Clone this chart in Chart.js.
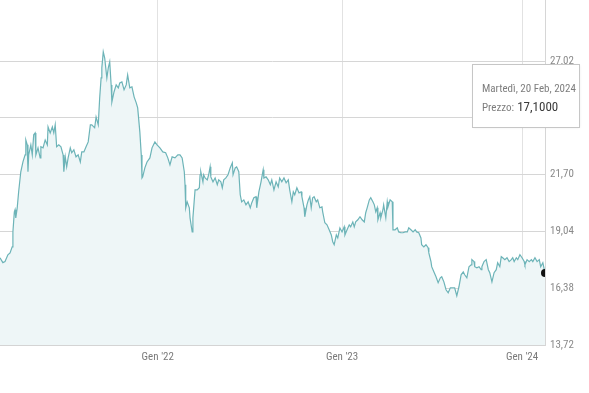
<!DOCTYPE html>
<html>
<head>
<meta charset="utf-8">
<script src="https://cdn.jsdelivr.net/npm/chart.js@4/dist/chart.umd.min.js"></script>
<style>
html,body{margin:0;padding:0;background:#fff;}
#wrap{width:589px;height:393px;}
</style>
</head>
<body>
<div id="wrap"><canvas id="c" width="589" height="393"></canvas></div>
<script>
// Trading-session index (0 = first session shown) and closing price
const sessions = [
0,4,7,11,14,17,18,20,21,22,24,26,29,32,35,36,38,39,40,43,45,47,49,50,53,56,57,60,63,66,67,70,73,75,77,79,82,85,88,89,91,93,95,98,100,103,106,109,112,114,117,120,123,126,
128,132,134,137,139,141,142,144,146,149,151,153,155,156,159,162,165,167,170,173,176,178,181,184,187,190,192,195,197,198,199,202,205,209,212,216,219,223,227,231,234,237,240,244,248,
251,254,257,258,259,261,264,265,268,269,272,275,278,279,280,283,284,286,289,291,293,294,297,300,303,305,308,310,312,315,318,321,324,325,328,330,333,335,337,340,343,346,349,351,354,357,358,361,364,367,368,371,374,
377,379,382,385,388,390,393,396,399,402,404,407,409,411,414,417,420,421,424,425,428,430,432,434,436,438,441,443,446,449,450,453,456,459,462,464,466,469,471,474,477,480,481,484,487,489,492,494,496,499,
502,505,508,510,512,515,517,520,522,524,526,527,530,531,534,535,538,540,541,544,547,548,551,554,556,559,562,565,568,570,573,576,579,581,584,587,588,591,594,597,598,601,602,
605,608,611,614,616,619,622,625,628,632,634,637,640,643,646,648,651,654,657,658,661,662,665,668,671,672,675,678,681,683,686,689,692,694,697,699,701,704,707,710,713,715,717,720,722,725,728,731,732,735,738,741,743,746,749,752,754,757,760
];
const prices = [
17.81,17.58,17.63,17.95,18.04,18.32,19.02,19.96,20.06,19.68,20.15,20.90,21.84,22.30,22.63,23.33,23.10,21.84,22.63,23.10,22.63,23.57,23.66,22.63,22.96,22.49,23.01,22.96,23.33,23.10,23.94,23.66,23.94,23.66,24.04,23.01,23.10,23.01,22.63,21.84,22.54,22.07,22.49,22.96,22.73,22.87,22.54,22.63,22.30,22.77,22.77,23.01,23.24,24.04,
24.04,23.90,24.41,24.04,25.30,26.24,26.71,27.46,27.17,26.24,26.71,26.99,25.91,25.11,25.58,25.91,25.77,26.00,26.05,25.68,25.91,26.38,25.77,25.82,25.35,25.07,24.83,23.71,22.63,21.55,21.60,22.02,22.30,22.49,22.96,23.24,23.10,22.96,22.77,22.73,22.49,22.16,22.54,22.49,22.63,
22.63,22.49,21.84,21.23,20.15,20.43,20.15,19.68,19.02,19.68,20.99,20.99,21.09,21.70,21.84,21.37,21.70,21.55,21.46,21.70,22.07,21.60,21.37,21.55,21.23,21.46,21.37,21.09,21.46,21.55,21.70,22.02,22.26,21.70,22.02,22.07,21.84,20.76,20.43,20.52,20.29,20.43,20.15,20.38,20.62,20.67,20.15,20.90,21.37,21.93,21.55,21.60,21.46,
21.23,21.46,20.99,21.37,21.13,21.55,21.37,21.55,21.32,21.46,20.99,20.43,20.90,20.76,21.09,20.85,20.90,20.67,20.15,19.73,20.29,20.52,20.67,20.15,20.62,20.67,20.43,20.52,20.15,20.19,19.96,19.45,19.35,19.12,18.88,18.56,18.42,18.88,18.74,19.21,19.02,19.26,18.88,19.12,19.35,19.26,19.49,19.26,19.49,19.59,
19.73,19.59,19.49,19.92,20.15,20.52,20.62,20.43,20.29,19.96,20.15,19.59,19.92,19.68,20.06,20.29,19.68,20.43,20.19,20.52,20.43,19.12,19.12,19.21,19.02,18.98,18.98,19.02,19.02,19.21,19.12,19.02,19.12,19.02,18.98,18.74,18.42,18.32,18.42,18.28,18.04,17.63,17.39,
17.15,16.92,16.64,16.87,16.92,16.68,16.31,16.17,16.40,16.40,16.40,16.03,16.45,17.01,17.15,17.01,16.87,17.39,17.48,17.72,17.63,17.39,17.34,17.39,17.25,17.39,17.63,17.72,17.25,17.11,16.68,17.11,17.25,17.58,17.39,17.86,17.81,17.72,17.81,17.63,17.72,17.81,17.63,17.81,17.72,17.95,17.81,17.63,17.48,17.72,17.63,17.72,17.63,17.81,17.63,17.72,17.39,17.58,17.10
];
const priceTicks = [13.72, 16.38, 19.04, 21.70, 24.36, 27.02];
const yearTicks = [220, 477, 728];
const yearLabels = ["Gen '22", "Gen '23", "Gen '24"];
const lastDateLabel = "Martedì, 20 Feb, 2024";
const priceLabel = "Prezzo:";

const FONT = "'Roboto Condensed', 'Liberation Sans Narrow', sans-serif";
const fmt = (v, d) => v.toFixed(d).replace('.', ',');

const tooltipBox = {
  id: 'tooltipBox',
  afterDraw(chart) {
    const ctx = chart.ctx;
    const x = 472.5, y = 64.5, w = 107, h = 63;
    ctx.save();
    ctx.shadowColor = 'rgba(0,0,0,0.10)';
    ctx.shadowBlur = 3;
    ctx.fillStyle = '#ffffff';
    ctx.fillRect(x, y, w, h);
    ctx.shadowColor = 'transparent';
    ctx.strokeStyle = '#c6c6c6';
    ctx.lineWidth = 1;
    ctx.strokeRect(x, y, w, h);
    ctx.textBaseline = 'alphabetic';
    ctx.textAlign = 'left';
    ctx.fillStyle = '#7d7d7d';
    ctx.font = "11px " + FONT;
    ctx.fillText(lastDateLabel, x + 9.5, 92);
    ctx.fillText(priceLabel, x + 9.5, 110.5);
    const pw = ctx.measureText(priceLabel).width + 3;
    ctx.fillStyle = '#3a3a3a';
    ctx.font = "13px " + FONT;
    ctx.fillText(fmt(prices[prices.length - 1], 4), x + 9.5 + pw, 111);
    ctx.restore();
  }
};

const last = prices.length - 1;
new Chart(document.getElementById('c'), {
  type: 'line',
  data: {
    datasets: [{
      data: sessions.map((s, i) => ({ x: s, y: prices[i] })),
      borderColor: '#6db4b8',
      borderWidth: 1.2,
      backgroundColor: '#eef6f7',
      fill: 'start',
      tension: 0,
      pointRadius: ctx => ctx.dataIndex === last ? 4 : 0,
      pointBackgroundColor: '#111111',
      pointBorderColor: '#111111',
      pointBorderWidth: 0
    }]
  },
  options: {
    responsive: false,
    animation: false,
    devicePixelRatio: 1,
    events: [],
    layout: { padding: 0, autoPadding: false },
    plugins: { legend: { display: false }, tooltip: { enabled: false } },
    scales: {
      x: {
        type: 'linear',
        min: 0,
        max: 760,
        afterBuildTicks: s => { s.ticks = yearTicks.map(v => ({ value: v })); },
        afterFit: s => { s.height = 48; s.paddingLeft = 0; s.paddingRight = 0; },
        grid: { color: '#e2e2e2', lineWidth: 1, drawTicks: false },
        border: { color: '#d4d4d4' },
        ticks: {
          padding: 6,
          color: '#7a7a7a',
          font: { family: FONT, size: 11 },
          maxRotation: 0,
          callback: (v) => yearLabels[yearTicks.indexOf(v)]
        }
      },
      y: {
        position: 'right',
        min: 13.72,
        max: 29.89,
        afterBuildTicks: s => { s.ticks = priceTicks.map(v => ({ value: v })); },
        afterFit: s => { s.width = 44; s.paddingTop = 0; s.paddingBottom = 0; },
        grid: { color: '#d6d6d6', lineWidth: 1, drawTicks: false },
        border: { color: '#d6d6d6' },
        ticks: {
          padding: 5,
          color: '#8a8a8a',
          font: { family: FONT, size: 11 },
          callback: v => fmt(v, 2)
        }
      }
    }
  },
  plugins: [tooltipBox]
});
</script>
</body>
</html>
